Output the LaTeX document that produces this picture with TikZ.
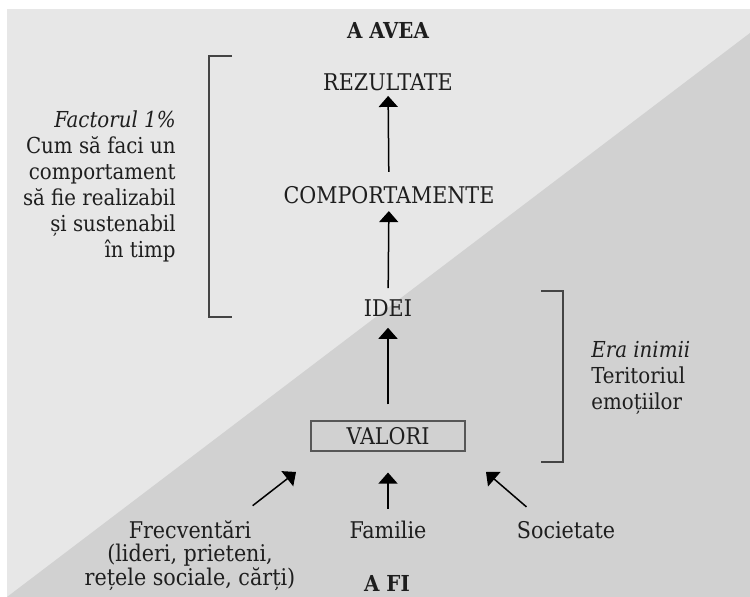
\documentclass[tikz,border=0pt]{standalone}
\usepackage{fontspec}
\setmainfont{DejaVu Serif Condensed}
\usetikzlibrary{arrows.meta}
\definecolor{lightbg}{HTML}{E7E7E7}
\definecolor{darkbg}{HTML}{D1D1D1}
\definecolor{inkcol}{HTML}{1E1E1E}
\definecolor{rulecol}{HTML}{444444}
\begin{document}
\begin{tikzpicture}[
            x=0.5pt, y=-0.5pt,
            main node/.style={font=\fontsize{11.5}{11.2}\selectfont,text=inkcol,inner sep=0pt},
            side node/.style={font=\fontsize{11}{13}\selectfont,text=inkcol,inner sep=0pt},
            pole node/.style={font=\fontsize{11}{12}\selectfont\bfseries,text=inkcol,inner sep=0pt},
            box node/.style={main node,draw=rulecol!90,line width=0.6pt,minimum width=77pt,minimum height=15pt},
            every edge/.style={draw,line width=0.75pt,-{Triangle[width=9.5pt,length=5.5pt]}},
            bracket/.style={draw=rulecol,line width=0.75pt},
        ]
            \useasboundingbox (0,0) rectangle (750,597);
            \fill[lightbg] (7,9) rectangle (750,597);
            \fill[darkbg] (7,597) -- (750,33) -- (750,597) -- cycle;

            \node[pole node] (avea) at (388, 30) {A AVEA};
            \node[main node] (rez) at (388, 82) {REZULTATE};
            \node[main node] (comp) at (389, 195) {COMPORTAMENTE};
            \node[main node] (idei) at (388, 308) {IDEI};
            \node[box node] (valori) at (388, 436) {VALORI};
            \node[main node] (fam) at (388, 530) {Familie};
            \node[main node] (soc) at (566, 530) {Societate};
            \node[main node,align=center] (frec) at (190, 556) {Frecventări\\(lideri, prieteni,\\rețele sociale, cărți)};
            \node[pole node] (fi) at (387, 583) {A FI};

            \node[side node,align=right,anchor=east] (factor) at (176, 186)
                {\textit{Factorul 1\%}\\Cum să faci un\\comportament\\să fie realizabil\\și sustenabil\\în timp};
            \node[side node,align=left,anchor=west] (era) at (591, 378)
                {\textit{Era inimii}\\Teritoriul\\emoțiilor};

            \coordinate (frec in) at (296, 472);
            \coordinate (soc in) at (486, 472);

            \path (comp) edge[shorten <=7pt, shorten >=2.5pt] (rez);
            \path (idei) edge[shorten <=5.5pt, shorten >=3.5pt] (comp);
            \path (valori) edge[shorten <=8pt, shorten >=5.5pt] (idei);
            \path (fam) edge[shorten <=6pt, shorten >=10.5pt] (valori);
            \path ([shift={(-43,-15)}]frec.north east) edge (frec in);
            \path ([shift={(10,-14)}]soc.north west) edge (soc in);

            \draw[bracket] (232, 56) -- (209, 56) -- (209, 317) -- (232, 317);
            \draw[bracket] (541, 291) -- (563, 291) -- (563, 462) -- (541, 462);
        \end{tikzpicture}
\end{document}
